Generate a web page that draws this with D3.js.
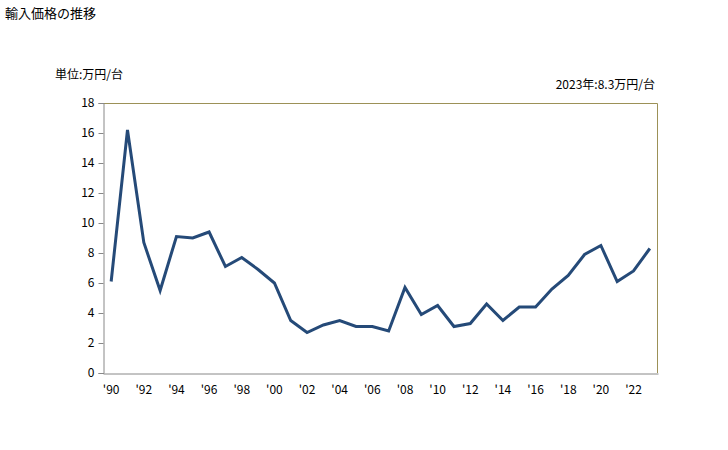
<!DOCTYPE html>
<html>
<head>
<meta charset="utf-8">
<script src="https://cdn.jsdelivr.net/npm/d3@7"></script>
<style>
  body { margin: 0; background: #fff; }
  text { font-family: "Noto Sans CJK JP", "DejaVu Sans", sans-serif; fill: #000; }
</style>
</head>
<body>
<div id="chart"></div>
<script>
// data
var years = d3.range(1990, 2024);
var prices = [6.1, 16.2, 8.7, 5.5, 9.1, 9.0, 9.4, 7.1, 7.7, 6.9,
  6.0, 3.5, 2.7, 3.2, 3.5, 3.1, 3.1, 2.8, 5.7, 3.9,
  4.5, 3.1, 3.3, 4.6, 3.5, 4.4, 4.4, 5.6, 6.5, 7.9,
  8.5, 6.1, 6.8, 8.3];
var yTicks = [0, 2, 4, 6, 8, 10, 12, 14, 16, 18];
var xTickYears = d3.range(1990, 2024, 2);

var svgWidth = 728, svgHeight = 450;
var margin = { top: 103, right: 70, bottom: 77, left: 103 };
var width = svgWidth - margin.left - margin.right;
var height = svgHeight - margin.top - margin.bottom;

var svg = d3.select("#chart").append("svg")
  .attr("width", svgWidth)
  .attr("height", svgHeight);

// titles
svg.append("text").attr("x", 5).attr("y", 18)
  .attr("font-size", "13px").text("輸入価格の推移");
svg.append("text").attr("x", 55).attr("y", 79)
  .attr("font-size", "12px").text("単位:万円/台");
svg.append("text").attr("x", 655).attr("y", 89)
  .attr("text-anchor", "end")
  .attr("font-size", "12px").text("2023年:8.3万円/台");

var g = svg.append("g")
  .attr("transform", `translate(${margin.left}, ${margin.top})`);

var x = d3.scaleBand().domain(years).range([0, width]);
var y = d3.scaleLinear().domain([0, 18]).range([height, 0]);

// frame (top & right olive)
g.append("path")
  .attr("d", `M0,0.5H${width - 0.5}V${height}`)
  .attr("fill", "none")
  .attr("stroke", "#9c9157")
  .attr("stroke-width", 1);

// y axis
var leftAxis = d3.axisLeft(y).tickValues(yTicks).tickSize(5).tickPadding(4);
var yg = g.append("g").attr("transform", "translate(0.5,0)").call(leftAxis);
yg.select(".domain").attr("stroke", "#888");
yg.selectAll(".tick line").attr("stroke", "#888");
yg.selectAll(".tick text").attr("font-size", "12px").attr("font-family", "Liberation Sans, Arial, sans-serif");

// x axis
var bottomAxis = d3.axisBottom(x)
  .tickValues(xTickYears)
  .tickSize(0)
  .tickPadding(12)
  .tickFormat(d => "'" + String(d).slice(2));
var xg = g.append("g").attr("transform", `translate(0, ${height + 0.5})`).call(bottomAxis);
xg.select(".domain").attr("stroke", "#888");
xg.selectAll(".tick text").attr("font-size", "12px").attr("font-family", "Liberation Sans, Arial, sans-serif");

// line
var line = d3.line()
  .x((d, i) => x(years[i]) + x.bandwidth() / 2)
  .y(d => y(d));

g.append("path")
  .datum(prices)
  .attr("d", line)
  .attr("fill", "none")
  .attr("stroke", "#254a78")
  .attr("stroke-width", 3)
  .attr("stroke-linejoin", "miter");
</script>
</body>
</html>
